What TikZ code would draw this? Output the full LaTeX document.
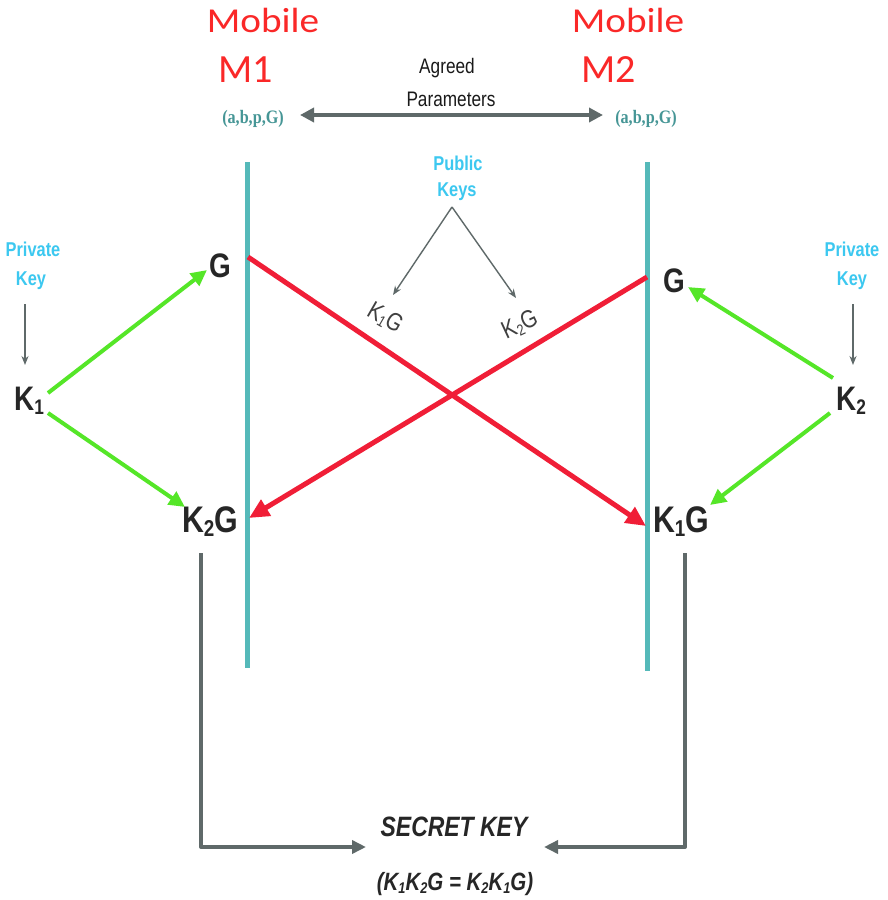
\documentclass[tikz,border=0pt]{standalone}
\usepackage{fontspec}
\usepackage{graphicx}
\setmainfont{Liberation Sans}
\newfontfamily\mobw[FakeStretch=1.12]{Carlito}
\newfontfamily\mobn{Carlito}
\newfontfamily\nar[FakeStretch=0.82]{Liberation Sans}
\newfontfamily\ser[FakeStretch=0.85]{Liberation Serif}
\usetikzlibrary{arrows.meta}
\definecolor{tealc}{RGB}{85,185,185}
\definecolor{tealt}{RGB}{70,150,150}
\definecolor{redc}{RGB}{240,30,55}
\definecolor{greenc}{RGB}{85,230,40}
\definecolor{cyanc}{RGB}{60,200,240}
\definecolor{grayc}{RGB}{95,105,105}
\definecolor{mobred}{RGB}{250,40,40}
\newcommand\sbs[1]{\raisebox{-0.12em}{\scalebox{0.62}{#1}}}
\tikzset{
  txt/.style={inner sep=0pt, anchor=base},
  mobtxt/.style={txt, text=mobred},
  blk/.style={txt, font=\nar\bfseries\fontsize{34}{34}\selectfont, text=black!85},
  keylbl/.style={txt, font=\nar\bfseries\fontsize{20}{20}\selectfont, text=cyanc},
  param/.style={txt, font=\ser\bfseries\fontsize{19}{19}\selectfont, text=tealt},
  agr/.style={txt, font=\nar\fontsize{21}{21}\selectfont, text=black!90},
  tealline/.style={draw=tealc, line width=5pt},
  redarr/.style={draw=redc, line width=5pt, -{Triangle[length=20pt,width=18pt]}},
  greenarr/.style={draw=greenc, line width=4pt, -{Triangle[length=16pt,width=15pt]}},
  grayarr/.style={draw=grayc, line width=4pt, line join=round, -{Triangle[length=14pt,width=13pt]}},
  thinarr/.style={draw=grayc, line width=1.4pt, -{Stealth[length=9pt,width=7pt]}},
}
\begin{document}
\begin{tikzpicture}[x=1pt,y=-1pt]
\useasboundingbox[fill=white] (0,0) rectangle (888,900);

% titles
\node[mobtxt, font=\mobw\fontsize{35}{35}\selectfont] (mobL) at (263,32) {Mobile};
\node[mobtxt, font=\mobn\fontsize{40}{40}\selectfont] (m1) at (246,82) {M1};
\node[mobtxt, font=\mobw\fontsize{35}{35}\selectfont] (mobR) at (628,32) {Mobile};
\node[mobtxt, font=\mobn\fontsize{40}{40}\selectfont] (m2) at (609,82) {M2};

% parameters
\node[param] (pL) at (253,123) {(a,b,p,G)};
\node[param] (pR) at (646,123) {(a,b,p,G)};
\node[agr] (agreed) at (447,73) {Agreed};
\node[agr] (par) at (451,106) {Parameters};
\coordinate (daL) at (300,115);
\coordinate (daR) at (603,115);
\draw[grayc, line width=4pt, {Triangle[length=14pt,width=14pt]}-{Triangle[length=14pt,width=14pt]}] (daL) -- (daR);

% vertical lines
\coordinate (vLt) at (247,162); \coordinate (vLb) at (247,668);
\coordinate (vRt) at (647,162); \coordinate (vRb) at (647,671);
\draw[tealline] (vLt) -- (vLb);
\draw[tealline] (vRt) -- (vRb);

% public keys
\node[keylbl] (pub) at (458,170) {Public};
\node[keylbl] (keys) at (457,196) {Keys};
\coordinate (pk) at (452,207);
\coordinate (pk1) at (393,295);
\coordinate (pk2) at (516,298);
\draw[thinarr] (pk) -- (pk1);
\draw[thinarr] (pk) -- (pk2);
\node[txt, font=\nar\fontsize{25}{25}\selectfont, text=black!75, anchor=center, rotate=-30] (k1gm) at (385,318) {K\sbs{1}G};
\node[txt, font=\nar\fontsize{25}{25}\selectfont, text=black!75, anchor=center, rotate=25] (k2gm) at (520,325) {K\sbs{2}G};

% private keys
\node[keylbl] (privL) at (33,256) {Private};
\node[keylbl] (keyL) at (31,285) {Key};
\node[keylbl] (privR) at (852,256) {Private};
\node[keylbl] (keyR) at (852,285) {Key};
\coordinate (paL1) at (25,304); \coordinate (paL2) at (25,365);
\coordinate (paR1) at (853,304); \coordinate (paR2) at (853,365);
\draw[thinarr] (paL1) -- (paL2);
\draw[thinarr] (paR1) -- (paR2);

% labels
\node[blk] (k1) at (29,410) {K\sbs{1}};
\node[blk] (k2) at (851,410) {K\sbs{2}};
\node[blk] (gL) at (220,277) {G};
\node[blk] (gR) at (674,292) {G};
\node[blk, font=\nar\bfseries\fontsize{37}{37}\selectfont] (k2gL) at (210,532) {K\sbs{2}G};
\node[blk, font=\nar\bfseries\fontsize{37}{37}\selectfont] (k1gR) at (681,532) {K\sbs{1}G};

% green arrows
\coordinate (g1s) at (48,393); \coordinate (g1e) at (207,270);
\coordinate (g2s) at (48,413); \coordinate (g2e) at (185,507);
\coordinate (g3s) at (833,378); \coordinate (g3e) at (688,287);
\coordinate (g4s) at (830,413); \coordinate (g4e) at (710,505);
\draw[greenarr] (g1s) -- (g1e);
\draw[greenarr] (g2s) -- (g2e);
\draw[greenarr] (g3s) -- (g3e);
\draw[greenarr] (g4s) -- (g4e);

% red arrows
\coordinate (r1s) at (248,257); \coordinate (r1e) at (646,526);
\coordinate (r2s) at (647,277); \coordinate (r2e) at (249,518);
\draw[redarr] (r1s) -- (r1e);
\draw[redarr] (r2s) -- (r2e);

% secret key
\node[txt, font=\nar\bfseries\itshape\fontsize{28}{28}\selectfont, text=black!85] (sk) at (454,836) {SECRET KEY};
\node[txt, font=\nar\bfseries\itshape\fontsize{25}{25}\selectfont, text=black!85] (eq) at (455,890) {(K\sbs{1}K\sbs{2}G = K\sbs{2}K\sbs{1}G)};
\coordinate (bl) at (201,553); \coordinate (bla) at (366,847);
\coordinate (br) at (685,553); \coordinate (bra) at (544,847);
\draw[grayarr] (bl) |- (bla);
\draw[grayarr] (br) |- (bra);
\end{tikzpicture}
\end{document}
